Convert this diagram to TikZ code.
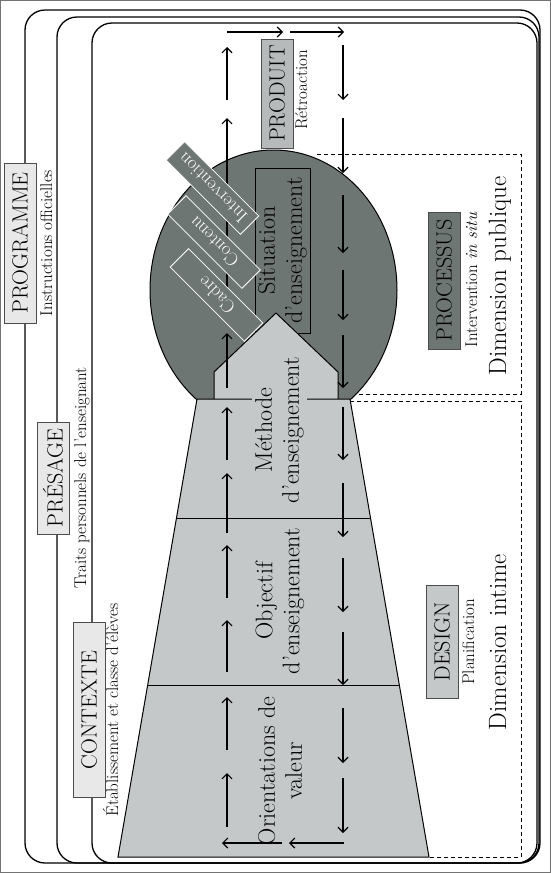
\documentclass[tikz,border=0pt]{standalone}
\usepackage{fontspec}
\usetikzlibrary{arrows.meta}
\definecolor{lightgrey}{RGB}{196,200,200}
\definecolor{darkgrey}{RGB}{110,118,116}
\definecolor{palegrey}{RGB}{232,232,232}
\definecolor{midgrey}{RGB}{182,186,186}

\begin{document}
\begin{tikzpicture}[x=1pt,y=-1pt,
  frame/.style={line width=1.3pt,rounded corners=20pt},
  level/.style={draw=black!70,line width=0.8pt,rotate=90,minimum height=32pt,inner sep=0pt,font=\fontsize{22}{24}\selectfont},
  sub/.style={rotate=90,anchor=base,inner sep=0pt,font=\fontsize{17}{20}\selectfont},
  dimtext/.style={rotate=90,anchor=base,inner sep=0pt,font=\fontsize{25}{28}\selectfont},
  phase/.style={rotate=90,align=center,inner sep=0pt,font=\fontsize{24}{27}\selectfont},
  flow/.style={line width=1.2pt,-{Straight Barb[length=5pt,width=10pt]}},
  zone/.style={line width=0.9pt,dash pattern=on 4pt off 3pt},
  tag/.style={rotate=135,minimum width=105pt,minimum height=26pt,inner sep=0pt,fill=darkgrey,draw=white,line width=0.8pt,text=white,font=\fontsize{18.5}{20}\selectfont}]
\useasboundingbox (0,0) rectangle (551,873);
\draw[black!55,line width=1pt] (0.5,0.5) rectangle (550.5,872.5);

\draw[frame] (25,10) rectangle (540,863);
\draw[frame] (57,17) rectangle (539,863);
\draw[frame] (92,23) rectangle (537,863);

\node[level,fill=palegrey,minimum width=160pt] (programme) at (20,243) {PROGRAMME};
\node[sub] (instructions) at (52,243) {Instructions officielles};
\node[level,fill=palegrey,minimum width=112pt] (presage) at (53,478) {PRÉSAGE};
\node[sub] (traits) at (86,478) {Traits personnels de l’enseignant};
\node[level,fill=palegrey,minimum width=175pt] (contexte) at (89,710) {CONTEXTE};
\node[sub] (etablissement) at (118,710) {Établissement et classe d’élèves};

\draw[zone] (317,154) -- (521,154) -- (521,394) -- (350,394);
\draw[zone] (350,401) -- (521,401) -- (521,857) -- (429,857);

\draw[fill=darkgrey,line width=1pt] (273.5,290) ellipse [x radius=123.5,y radius=140];
\node[phase,draw,fill=darkgrey,line width=0.8pt,minimum width=165pt,minimum height=55pt] (situation) at (282.5,250.5) {Situation\\d’enseignement};

\fill[lightgrey] (214,400) -- (214,372) -- (276,313) -- (338,372) -- (338,400) -- cycle;
\draw[line width=1pt] (214,399) -- (214,372) -- (276,313) -- (338,372) -- (338,399);
\draw[fill=lightgrey,line width=1pt] (118,857) -- (429,857) -- (350,399) -- (197,399) -- cycle;
\draw[line width=0.9pt] (176.5,518) -- (370.5,518);
\draw[line width=0.9pt] (147.7,685) -- (399.3,685);

\foreach \a/\b in {827/773,750/697,672/620,598/545,533/473,460/407,388/333,310/118,100/47}
  \draw[flow] (227,\a) -- (227,\b);
\foreach \a/\b in {45/100,118/173,195/253,270/320,335/388,407/460,483/537,558/612,632/685,708/763,778/833}
  \draw[flow] (343,\a) -- (343,\b);
\draw[flow] (227,32) -- (283,32);
\draw[flow] (290,32) -- (344,32);
\draw[flow] (344,843) -- (289,843);
\draw[flow] (282,843) -- (222,843);

\node[tag] (intervention) at (212.5,188) {Intervention};
\node[tag] (contenu) at (214,242) {Contenu};
\node[tag] (cadre) at (216.5,295) {Cadre};

\node[phase,fill=lightgrey,minimum height=55pt] (methode) at (279.5,430) {Méthode\\d’enseignement};
\node[phase] (objectif) at (280,601) {Objectif\\d’enseignement};
\node[phase] (orientations) at (280,771) {Orientations de\\valeur};

\node[level,fill=midgrey,minimum width=109pt] (produit) at (277,93.5) {PRODUIT};
\node[sub] (retroaction) at (307,90) {Rétroaction};
\node[level,fill=darkgrey,minimum width=137pt] (processus) at (444,280.5) {PROCESSUS};
\node[sub] (insitu) at (477,280) {Intervention \textit{in situ}};
\node[dimtext] (publique) at (506,276) {Dimension publique};
\node[level,fill=lightgrey,minimum width=113pt] (design) at (442,642) {DESIGN};
\node[sub] (planif) at (474,642) {Planification};
\node[dimtext] (intime) at (506,642) {Dimension intime};
\end{tikzpicture}
\end{document}
